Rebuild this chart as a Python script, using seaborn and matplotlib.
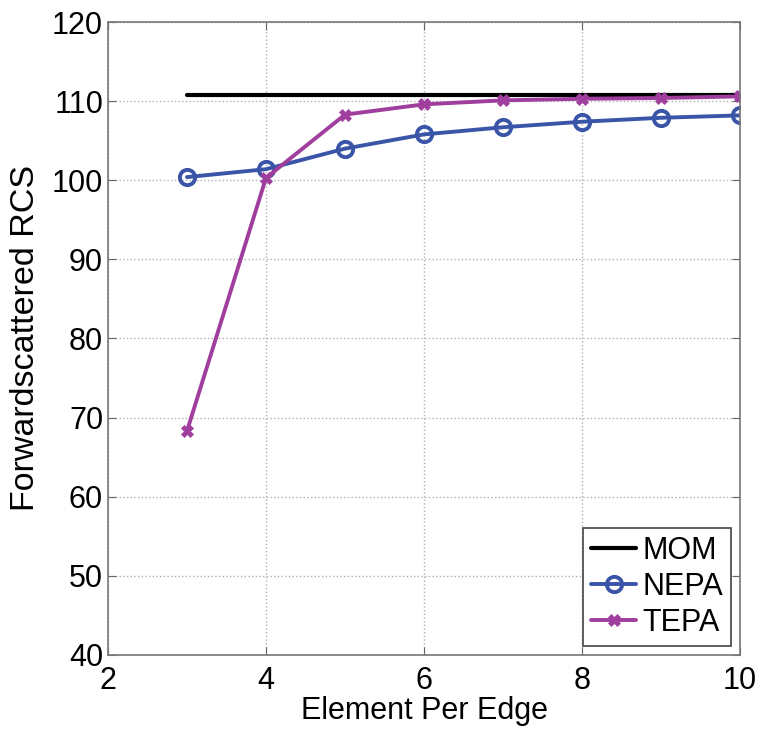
import numpy as np
import pandas as pd
import seaborn as sns
import matplotlib.pyplot as plt

# values
elements = [3, 4, 5, 6, 7, 8, 9, 10]
mom = [110.8] * 8
nepa = [100.4, 101.4, 104.0, 105.8, 106.7, 107.4, 107.9, 108.2]
tepa = [68.3, 100.3, 108.3, 109.6, 110.1, 110.3, 110.4, 110.6]

x_ticks = [2, 4, 6, 8, 10]
y_ticks = [40, 50, 60, 70, 80, 90, 100, 110, 120]

sns.set_style("white")
plt.rcParams['font.family'] = ['Liberation Sans', 'DejaVu Sans']
plt.rcParams['text.color'] = 'black'
plt.rcParams['axes.labelcolor'] = 'black'
plt.rcParams['xtick.color'] = 'black'
plt.rcParams['ytick.color'] = 'black'

df = pd.DataFrame({"Element Per Edge": elements, "MOM": mom, "NEPA": nepa, "TEPA": tepa})

fig = plt.figure(figsize=(7.63, 7.35), dpi=100)
ax = fig.add_axes([0.1415, 0.109, 0.8285, 0.861])

sns.lineplot(data=df, x="Element Per Edge", y="MOM", ax=ax, color="black",
             linewidth=3, label="MOM")
sns.lineplot(data=df, x="Element Per Edge", y="NEPA", ax=ax, color="#3a55a8",
             linewidth=2.8, marker="o", markersize=11, markerfacecolor="none",
             markeredgewidth=2.8, markeredgecolor="#3a55a8", label="NEPA")
sns.lineplot(data=df, x="Element Per Edge", y="TEPA", ax=ax, color="#a03e9e",
             linewidth=2.8, marker="X", markersize=9, markeredgewidth=0.5,
             markeredgecolor="#a03e9e", label="TEPA")

ax.set_xlim(2, 10)
ax.set_ylim(40, 120)
ax.set_xticks(x_ticks)
ax.set_yticks(y_ticks)
ax.tick_params(direction="in", labelsize=22, length=6, color="#666666",
               top=True, right=True, bottom=True, left=True)
ax.tick_params(axis="x", pad=8)
ax.grid(True, linestyle=":", color="#b0b0b0", linewidth=1)
for s in ax.spines.values():
    s.set_color("#777777")
    s.set_linewidth(1.2)

ax.set_xlabel("Element Per Edge", fontsize=22, labelpad=0)
ax.set_ylabel("Forwardscattered RCS", fontsize=24.5, labelpad=8)

leg = ax.legend(loc="lower right", fontsize=22, frameon=True, fancybox=False,
                handlelength=1.5, handletextpad=0.2, borderpad=0.25, labelspacing=0.2,
                borderaxespad=0.3)
leg.get_frame().set_edgecolor("#444444")
leg.get_frame().set_linewidth(1.2)
leg.get_frame().set_alpha(1)

fig.savefig("out.png", dpi=100)
